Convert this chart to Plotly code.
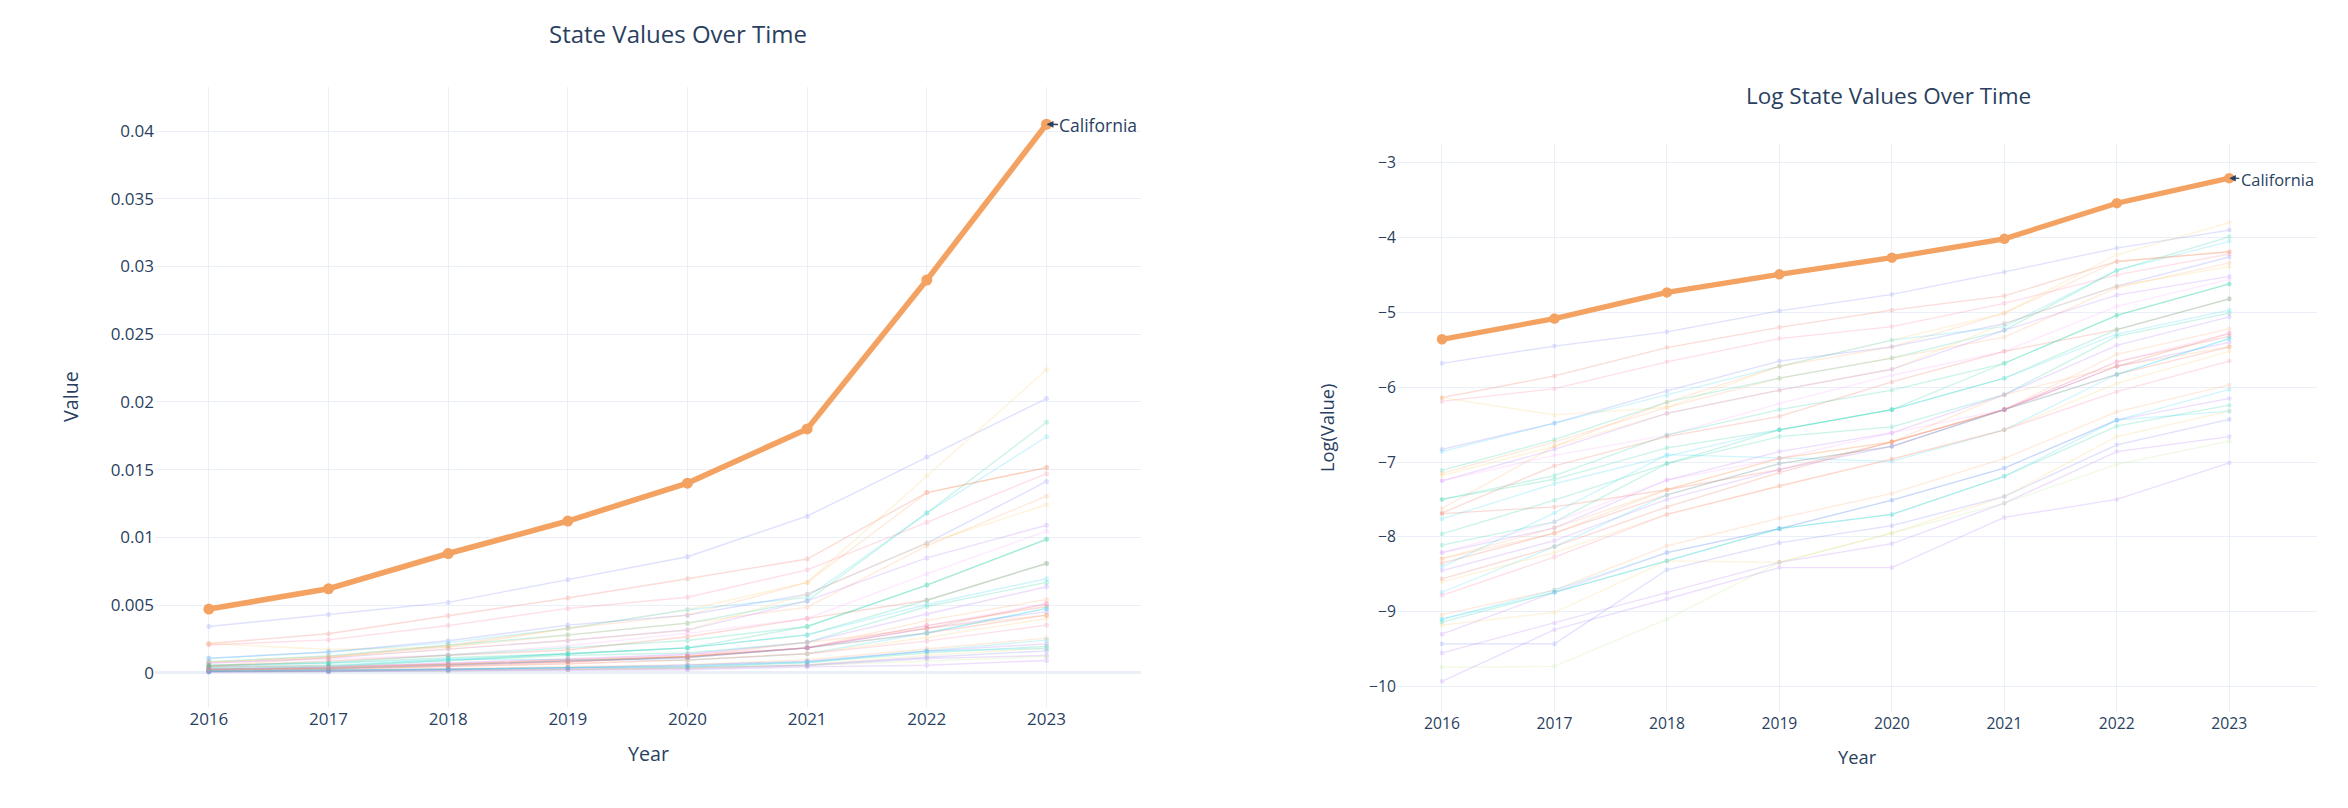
import numpy as np
import plotly.graph_objects as go

# ---------------- data ----------------
years = [2016, 2017, 2018, 2019, 2020, 2021, 2022, 2023]

highlight_state = "California"
california_values = [0.0047, 0.0062, 0.0088, 0.0112, 0.0140, 0.0180, 0.0290, 0.0405]

states = [
    "Texas", "New York", "Florida", "Washington", "New Jersey", "Illinois",
    "Massachusetts", "Georgia", "Virginia", "Colorado", "North Carolina",
    "Arizona", "Nevada", "Pennsylvania", "Michigan", "Maryland", "Oregon",
    "Utah", "Minnesota", "Ohio", "Tennessee", "Connecticut", "Wisconsin",
    "Indiana", "Missouri", "South Carolina", "Louisiana", "Kentucky",
    "Oklahoma", "Alabama", "Iowa", "Kansas", "Arkansas", "Mississippi",
    "Nebraska", "Idaho", "New Mexico", "Hawaii", "New Hampshire", "Delaware",
]

# natural-log values (one row per state, 2016..2023)
state_log_values = [
    [-5.68, -5.45, -5.26, -4.98, -4.76, -4.46, -4.14, -3.90],
    [-6.14, -5.85, -5.47, -5.20, -4.97, -4.78, -4.32, -4.19],
    [-6.19, -6.02, -5.66, -5.35, -5.19, -4.88, -4.50, -4.22],
    [-6.14, -6.37, -6.27, -5.72, -5.37, -5.01, -4.23, -3.80],
    [-6.83, -6.48, -6.05, -5.65, -5.46, -5.15, -4.65, -4.26],
    [-6.86, -6.48, -6.11, -5.72, -5.37, -5.19, -4.44, -4.05],
    [-7.11, -6.70, -6.20, -5.88, -5.61, -5.24, -4.44, -3.99],
    [-7.15, -6.73, -6.27, -5.88, -5.61, -5.33, -4.67, -4.34],
    [-7.18, -6.79, -6.35, -6.04, -5.76, -5.15, -4.65, -4.39],
    [-7.25, -6.83, -6.35, -6.04, -5.76, -5.24, -4.77, -4.52],
    [-7.25, -6.91, -6.64, -6.22, -5.84, -5.52, -4.92, -4.56],
    [-7.50, -7.18, -6.64, -6.30, -6.04, -5.68, -5.04, -4.62],
    [-7.62, -6.79, -6.20, -5.72, -5.46, -5.01, -4.32, -4.19],
    [-7.68, -7.05, -6.66, -6.39, -5.93, -5.52, -5.23, -4.82],
    [-7.69, -7.60, -7.37, -7.10, -6.73, -6.30, -5.72, -5.28],
    [-7.76, -7.29, -6.92, -6.57, -6.30, -5.88, -5.29, -4.97],
    [-7.96, -7.51, -7.02, -6.57, -6.30, -5.68, -5.04, -4.62],
    [-8.11, -7.80, -7.02, -6.66, -6.53, -6.10, -5.32, -5.01],
    [-8.21, -7.88, -7.24, -6.86, -6.61, -6.10, -5.44, -5.06],
    [-8.29, -7.88, -7.37, -6.95, -6.73, -6.30, -5.56, -5.22],
    [-8.35, -7.95, -7.44, -7.02, -6.79, -6.30, -5.66, -5.32],
    [-8.40, -7.68, -6.90, -6.95, -6.99, -6.57, -5.83, -5.35],
    [-8.45, -8.05, -7.50, -7.10, -6.79, -6.30, -5.72, -5.40],
    [-8.56, -8.13, -7.60, -7.14, -6.73, -6.30, -5.83, -5.46],
    [-8.60, -8.21, -7.70, -7.32, -6.96, -6.57, -5.95, -5.52],
    [-8.74, -8.13, -7.44, -7.02, -6.79, -6.30, -5.83, -5.35],
    [-8.78, -8.27, -7.70, -7.32, -6.96, -6.57, -6.06, -5.65],
    [-9.04, -8.71, -8.12, -7.75, -7.42, -6.95, -6.33, -5.97],
    [-9.10, -8.71, -8.21, -7.89, -7.51, -7.08, -6.44, -6.03],
    [-9.14, -8.74, -8.32, -7.89, -7.70, -7.19, -6.52, -6.24],
    [-9.18, -9.01, -8.32, -8.34, -7.95, -7.46, -6.66, -6.32],
    [-9.30, -8.74, -8.21, -7.89, -7.51, -7.08, -6.44, -6.15],
    [-9.43, -9.43, -8.44, -8.08, -7.85, -7.46, -6.77, -6.43],
    [-9.55, -9.15, -8.75, -8.34, -8.09, -7.55, -6.86, -6.66],
    [-9.74, -9.73, -9.10, -8.34, -7.95, -7.55, -7.03, -6.72],
    [-9.93, -9.24, -8.83, -8.41, -8.41, -7.74, -7.50, -7.01],
    [-7.50, -7.23, -6.81, -6.57, -6.30, -5.88, -5.23, -4.82],
    [-8.21, -7.80, -7.24, -6.95, -6.61, -6.30, -5.66, -5.28],
    [-9.10, -8.74, -8.32, -7.89, -7.70, -7.19, -6.44, -6.32],
    [-8.29, -7.95, -7.37, -6.95, -6.73, -6.10, -5.72, -5.46],
]

# ---------------- styles ----------------
palette = {
    "blue": "#636efa", "red": "#EF553B", "green": "#00cc96", "purple": "#ab63fa",
    "orange": "#FFA15A", "cyan": "#19d3f3", "pink": "#FF6692", "lgreen": "#B6E880",
    "lpink": "#FF97FF", "yellow": "#FECB52",
}
series_color_names = [
    "blue", "red", "pink", "yellow", "blue", "cyan", "green", "orange", "yellow",
    "purple", "lpink", "green", "orange", "red", "red", "cyan", "green", "green",
    "purple", "orange", "red", "cyan", "purple", "red", "yellow", "cyan", "pink",
    "orange", "cyan", "green", "yellow", "purple", "blue", "purple", "lgreen",
    "purple", "green", "lpink", "cyan", "orange",
]
highlight_color = "#F4A261"
text_color = "#2a3f5f"
grid_color = "#EBF0F8"
font_family = "Open Sans, verdana, arial, sans-serif"

W, H = 2348, 808


def xdom(a, b):
    return [a / W, b / W]


def ydom(top, bottom):
    return [1 - bottom / H, 1 - top / H]


fig = go.Figure()

for name, logs, cname in zip(states, state_log_values, series_color_names):
    col = palette[cname]
    fig.add_trace(go.Scatter(
        x=years, y=np.exp(np.array(logs)), mode="lines+markers", name=name,
        line=dict(color=col, width=1.4), marker=dict(color=col, size=5),
        opacity=0.2, showlegend=False, xaxis="x", yaxis="y",
    ))
    fig.add_trace(go.Scatter(
        x=years, y=logs, mode="lines+markers", name=name,
        line=dict(color=col, width=1.3), marker=dict(color=col, size=4.6),
        opacity=0.2, showlegend=False, xaxis="x2", yaxis="y2",
    ))

ca_vals = np.array(california_values)
ca_logs = np.log(ca_vals)
fig.add_trace(go.Scatter(
    x=years, y=ca_vals, mode="lines+markers", name=highlight_state,
    line=dict(color=highlight_color, width=5.6), marker=dict(color=highlight_color, size=11),
    showlegend=False, xaxis="x", yaxis="y",
))
fig.add_trace(go.Scatter(
    x=years, y=ca_logs, mode="lines+markers", name=highlight_state,
    line=dict(color=highlight_color, width=5.2), marker=dict(color=highlight_color, size=10.5),
    showlegend=False, xaxis="x2", yaxis="y2",
))

axis_common = dict(showgrid=True, gridcolor=grid_color, gridwidth=1.4, showline=False,
                   ticks="", zeroline=False)

fig.update_layout(
    template="plotly_white",
    width=W, height=H, autosize=False,
    margin=dict(l=0, r=0, t=0, b=0),
    paper_bgcolor="white", plot_bgcolor="white",
    font=dict(family=font_family, color=text_color),
    showlegend=False,
    xaxis=dict(domain=xdom(155, 1141), range=[2015.55, 2023.79], tickmode="array",
               tickvals=years, tickfont=dict(size=17), anchor="y", **axis_common),
    yaxis=dict(domain=ydom(87, 707), range=[-0.00253, 0.04325], dtick=0.005, tick0=0,
               tickfont=dict(size=17), anchor="x",
               **{**axis_common, "zeroline": True}, zerolinecolor=grid_color, zerolinewidth=2.8),
    xaxis2=dict(domain=xdom(1397, 2317), range=[2015.6, 2023.78], tickmode="array",
                tickvals=years, tickfont=dict(size=15.7), anchor="y2", **axis_common),
    yaxis2=dict(domain=ydom(144, 712), range=[-10.34, -2.75], dtick=1,
                tickfont=dict(size=15.7), anchor="x2", **axis_common),
)

annotations = [
    dict(text="State Values Over Time", x=678 / W, y=1 - 33 / H, xref="paper", yref="paper",
         showarrow=False, font=dict(size=24, color=text_color), xanchor="center", yanchor="middle"),
    dict(text="Log State Values Over Time", x=1888 / W, y=1 - 95 / H, xref="paper", yref="paper",
         showarrow=False, font=dict(size=22.5, color=text_color), xanchor="center", yanchor="middle"),
    dict(text="Year", x=648 / W, y=1 - 753 / H, xref="paper", yref="paper", showarrow=False,
         font=dict(size=19.7, color=text_color), xanchor="center", yanchor="middle"),
    dict(text="Year", x=1857 / W, y=1 - 756 / H, xref="paper", yref="paper", showarrow=False,
         font=dict(size=18.3, color=text_color), xanchor="center", yanchor="middle"),
    dict(text="Value", x=70 / W, y=1 - 397 / H, xref="paper", yref="paper", showarrow=False,
         textangle=-90, font=dict(size=19.7, color=text_color), xanchor="center", yanchor="middle"),
    dict(text="Log(Value)", x=1326 / W, y=1 - 428 / H, xref="paper", yref="paper", showarrow=False,
         textangle=-90, font=dict(size=18.3, color=text_color), xanchor="center", yanchor="middle"),
    dict(text=highlight_state, x=years[-1], y=ca_vals[-1], xref="x", yref="y",
         showarrow=True, ax=52, ay=1, arrowhead=2, arrowsize=1, arrowwidth=1.4,
         arrowcolor=text_color, font=dict(size=17.5, color=text_color)),
    dict(text=highlight_state, x=years[-1], y=ca_logs[-1], xref="x2", yref="y2",
         showarrow=True, ax=48, ay=1, arrowhead=2, arrowsize=1, arrowwidth=1.3,
         arrowcolor=text_color, font=dict(size=16.4, color=text_color)),
]
fig.update_layout(annotations=annotations)

fig.write_html(
    "out.html",
    config={"displayModeBar": False},
    post_script="document.body.style.margin='0';document.body.style.overflow='hidden';",
)
